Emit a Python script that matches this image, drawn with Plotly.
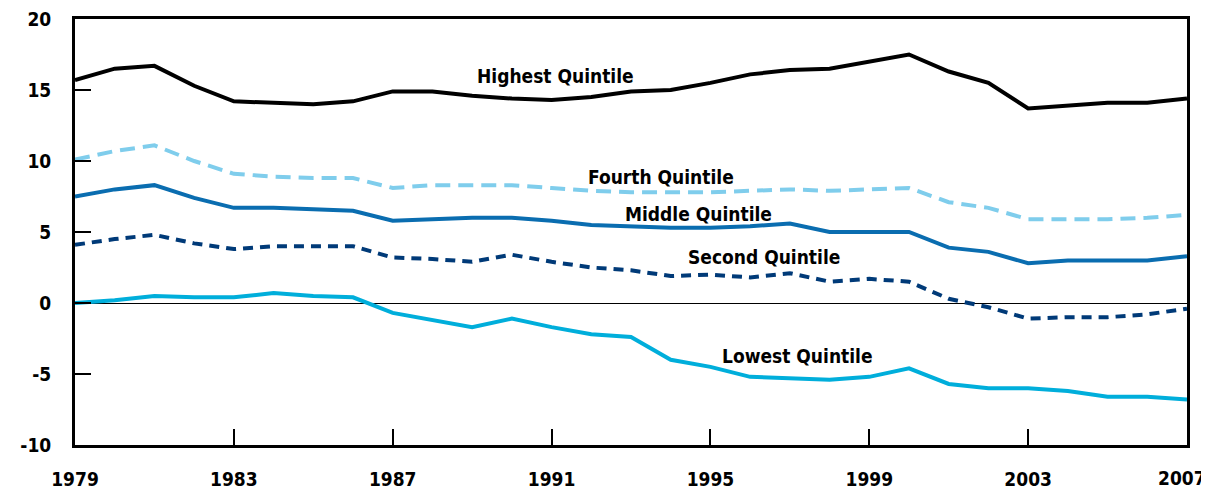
import plotly.graph_objects as go

years = list(range(1979, 2008))

highest = [15.7, 16.5, 16.7, 15.3, 14.2, 14.1, 14.0, 14.2, 14.9, 14.9, 14.6, 14.4, 14.3, 14.5,
           14.9, 15.0, 15.5, 16.1, 16.4, 16.5, 17.0, 17.5, 16.3, 15.5, 13.7, 13.9, 14.1, 14.1, 14.4]
fourth = [10.1, 10.7, 11.1, 10.0, 9.1, 8.9, 8.8, 8.8, 8.1, 8.3, 8.3, 8.3, 8.1, 7.9,
          7.8, 7.8, 7.8, 7.9, 8.0, 7.9, 8.0, 8.1, 7.1, 6.7, 5.9, 5.9, 5.9, 6.0, 6.2]
middle = [7.5, 8.0, 8.3, 7.4, 6.7, 6.7, 6.6, 6.5, 5.8, 5.9, 6.0, 6.0, 5.8, 5.5,
          5.4, 5.3, 5.3, 5.4, 5.6, 5.0, 5.0, 5.0, 3.9, 3.6, 2.8, 3.0, 3.0, 3.0, 3.3]
second = [4.1, 4.5, 4.8, 4.2, 3.8, 4.0, 4.0, 4.0, 3.2, 3.1, 2.9, 3.4, 2.9, 2.5,
          2.3, 1.9, 2.0, 1.8, 2.1, 1.5, 1.7, 1.5, 0.3, -0.3, -1.1, -1.0, -1.0, -0.8, -0.4]
lowest = [0.0, 0.2, 0.5, 0.4, 0.4, 0.7, 0.5, 0.4, -0.7, -1.2, -1.7, -1.1, -1.7, -2.2,
          -2.4, -4.0, -4.5, -5.2, -5.3, -5.4, -5.2, -4.6, -5.7, -6.0, -6.0, -6.2, -6.6, -6.6, -6.8]

x_ticks = [1979, 1983, 1987, 1991, 1995, 1999, 2003, 2007]
# last label is drawn as an annotation so it is not clipped at the page edge
x_tick_labels = ["1979", "1983", "1987", "1991", "1995", "1999", "2003", ""]
last_year_label = "2007"
y_ticks = [-10, -5, 0, 5, 10, 15, 20]
y_tick_labels = ["-10", "-5", "0", "5", "10", "15", "20"]

# label text and where it sits (x in years, y in percent)
labels = ["Highest Quintile", "Fourth Quintile", "Middle Quintile", "Second Quintile", "Lowest Quintile"]
label_x = [1991.1, 1993.75, 1994.7, 1996.35, 1997.2]
label_y = [16.0, 8.85, 6.25, 3.25, -3.75]

FONT = "DejaVu Sans Condensed"

fig = go.Figure()

series = [
    (highest, "black", "solid"),
    (fourth, "#7fcdec", "15px,8px"),
    (middle, "#0a6db0", "solid"),
    (second, "#003a78", "10px,7px"),
    (lowest, "#00aedb", "solid"),
]
for name, (vals, colour, dash) in zip(labels, series):
    fig.add_trace(go.Scatter(
        x=years,
        y=vals,
        name=name,
        mode="lines",
        line=dict(color=colour, width=4, dash=dash),
    ))

for text, lx, ly in zip(labels, label_x, label_y):
    fig.add_annotation(
        x=lx, y=ly, text=text, showarrow=False,
        font=dict(family=FONT, size=19, color="black", weight="bold"),
    )

fig.add_annotation(
    x=1, y=0, xref="paper", yref="paper",
    text=last_year_label, showarrow=False,
    xanchor="right", yanchor="middle", xshift=21, yshift=-33,
    font=dict(family=FONT, size=19, color="black", weight="bold"),
)

# page body has an 8px margin, so the figure is a bit smaller than the window
fig.update_layout(
    width=1201,
    height=481,
    showlegend=False,
    margin=dict(l=67, r=22, t=11, b=44),
    paper_bgcolor="white",
    plot_bgcolor="white",
    font=dict(family=FONT, size=19, color="black", weight="bold"),
    xaxis=dict(
        range=[1979, 2007],
        tickmode="array",
        tickvals=x_ticks,
        ticktext=x_tick_labels,
        ticks="inside",
        ticklen=16,
        tickwidth=1.5,
        tickcolor="black",
        showgrid=False,
        zeroline=False,
        showline=True,
        linewidth=3,
        linecolor="black",
        mirror=True,
        automargin=False,
        ticklabeloverflow="allow",
        ticklabelstandoff=15,
    ),
    yaxis=dict(
        range=[-10, 20],
        tickmode="array",
        tickvals=y_ticks,
        ticktext=y_tick_labels,
        ticks="inside",
        ticklen=16,
        tickwidth=1.5,
        tickcolor="black",
        showgrid=False,
        zeroline=True,
        zerolinecolor="black",
        zerolinewidth=1,
        showline=True,
        linewidth=3,
        linecolor="black",
        mirror=True,
        automargin=False,
        ticklabeloverflow="allow",
        ticklabelstandoff=17,
    ),
)

fig.write_html("out.html")
